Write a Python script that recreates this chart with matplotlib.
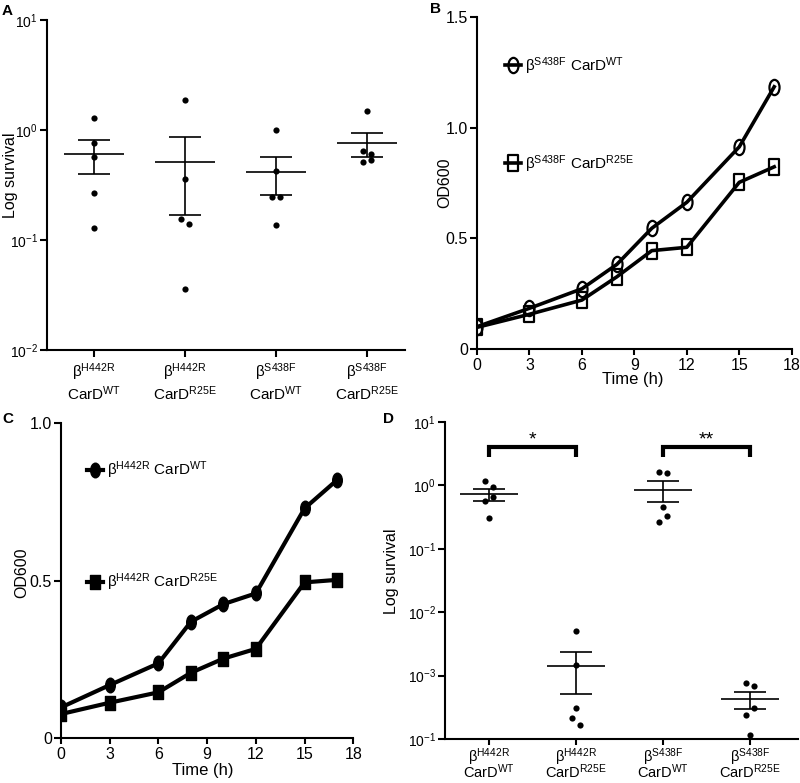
import numpy as np
import matplotlib
matplotlib.use("Agg")
import matplotlib.pyplot as plt
from matplotlib.path import Path

plt.rcParams.update({
    "font.family": ["Liberation Sans", "DejaVu Sans"],
    "mathtext.fontset": "custom",
    "mathtext.rm": "Liberation Sans",
    "mathtext.it": "Liberation Sans:italic",
    "mathtext.bf": "Liberation Sans:bold",
    "axes.linewidth": 1.5,
    "xtick.major.width": 1.5,
    "ytick.major.width": 1.5,
})

# ---------------- data ----------------
survival_labels = [
    "β$^{\\mathrm{H442R}}$\nCarD$^{\\mathrm{WT}}$",
    "β$^{\\mathrm{H442R}}$\nCarD$^{\\mathrm{R25E}}$",
    "β$^{\\mathrm{S438F}}$\nCarD$^{\\mathrm{WT}}$",
    "β$^{\\mathrm{S438F}}$\nCarD$^{\\mathrm{R25E}}$",
]
a_h442r_wt = [1.28, 0.767, 0.572, 0.269, 0.128]
a_h442r_r25e = [1.87, 0.359, 0.154, 0.140, 0.036]
a_s438f_wt = [1.00, 0.424, 0.248, 0.248, 0.136]
a_s438f_r25e = [1.50, 0.644, 0.605, 0.530, 0.508]

d_h442r_wt = [1.156, 0.93, 0.648, 0.574, 0.304]
d_h442r_r25e = [5.02e-3, 1.49e-3, 3.12e-4, 2.17e-4, 1.69e-4]
d_s438f_wt = [1.633, 1.559, 0.452, 0.327, 0.263]
d_s438f_r25e = [7.69e-4, 6.97e-4, 3.08e-4, 2.39e-4, 1.14e-4]

a_yticks = [1e-2, 1e-1, 1e0, 1e1]
a_yticklabels = ["10$^{\\mathrm{-2}}$", "10$^{\\mathrm{-1}}$", "10$^{\\mathrm{0}}$", "10$^{\\mathrm{1}}$"]
d_yticks = [1e-4, 1e-3, 1e-2, 1e-1, 1e0, 1e1]
d_yticklabels = ["10$^{\\mathrm{-1}}$", "10$^{\\mathrm{-3}}$", "10$^{\\mathrm{-2}}$",
                 "10$^{\\mathrm{-1}}$", "10$^{\\mathrm{0}}$", "10$^{\\mathrm{1}}$"]
d_significance = [(0, 1, "*"), (2, 3, "**")]

time_h = [0, 3, 6, 8, 10, 12, 15, 17]
b_s438f_wt = [0.102, 0.185, 0.273, 0.383, 0.546, 0.663, 0.913, 1.184]
b_s438f_r25e = [0.099, 0.158, 0.222, 0.327, 0.445, 0.460, 0.753, 0.823]
c_h442r_wt = [0.098, 0.169, 0.238, 0.370, 0.426, 0.460, 0.730, 0.820]
c_h442r_r25e = [0.077, 0.113, 0.146, 0.208, 0.253, 0.284, 0.495, 0.503]

b_labels = ["β$^{\\mathrm{S438F}}$ CarD$^{\\mathrm{WT}}$", "β$^{\\mathrm{S438F}}$ CarD$^{\\mathrm{R25E}}$"]
c_labels = ["β$^{\\mathrm{H442R}}$ CarD$^{\\mathrm{WT}}$", "β$^{\\mathrm{H442R}}$ CarD$^{\\mathrm{R25E}}$"]
time_ticks = [0, 3, 6, 9, 12, 15, 18]

# ---------------- markers ----------------
_circ = Path.unit_circle()
ellipse_marker = Path(_circ.vertices * np.array([0.66, 1.0]), _circ.codes)
rect_marker = Path([(-0.34, -0.5), (0.34, -0.5), (0.34, 0.5), (-0.34, 0.5), (-0.34, -0.5)],
                   [Path.MOVETO, Path.LINETO, Path.LINETO, Path.LINETO, Path.CLOSEPOLY])

fig = plt.figure(figsize=(8, 7.83), dpi=100)


def px_axes(left, top, right, bottom):
    W, H = 800, 783
    return fig.add_axes([left / W, 1 - bottom / H, (right - left) / W, (bottom - top) / H])


def swarm_offsets(ax, xc, vals, thresh=7.5, step=8.7):
    vals = np.asarray(vals)
    pts = ax.transData.transform(np.column_stack([np.full(len(vals), xc), vals]))
    ys = pts[:, 1]
    order = np.argsort(-ys)
    clusters = []
    for i in order:
        if clusters and abs(ys[clusters[-1][0]] - ys[i]) < thresh:
            clusters[-1].append(i)
        else:
            clusters.append([i])
    px_per_unit = ax.transData.transform((1, vals[0]))[0] - ax.transData.transform((0, vals[0]))[0]
    offs = np.zeros(len(vals))
    sign = 1
    for cl in clusters:
        n = len(cl)
        if n > 1:
            for k, idx in enumerate(cl):
                offs[idx] = sign * (k - (n - 1) / 2) * step / px_per_unit
            sign = -sign
    return offs


def style_axes(ax):
    for s in ("top", "right"):
        ax.spines[s].set_visible(False)
    ax.tick_params(direction="out", length=5, width=1.5, pad=1.5)


def survival_panel(ax, groups, xlim, ylim, yticks, yticklabels, linespacing, xpad, xfs):
    ax.set_yscale("log")
    ax.set_xlim(*xlim)
    ax.set_ylim(*ylim)
    style_axes(ax)
    for i, vals in enumerate(groups):
        vals = np.asarray(vals, dtype=float)
        offs = swarm_offsets(ax, i, vals)
        ax.scatter(i + offs, vals, s=20, color="black", linewidths=0, zorder=3)
        m = vals.mean()
        se = vals.std(ddof=1) / np.sqrt(len(vals))
        ax.hlines(m, i - 0.33, i + 0.33, color="black", lw=1.2)
        ax.vlines(i, m - se, m + se, color="black", lw=1.2)
        ax.hlines([m - se, m + se], i - 0.18, i + 0.18, color="black", lw=1.2)
    ax.set_xticks(range(len(groups)))
    ax.set_xticklabels(survival_labels, fontsize=xfs, linespacing=linespacing)
    ax.tick_params(axis="x", pad=xpad)
    ax.set_yticks(yticks)
    ax.set_yticklabels(yticklabels, fontsize=10)
    ax.minorticks_off()
    ax.set_ylabel("Log survival", fontsize=11.5)


# ---------------- Panel A ----------------
axA = px_axes(47, 20, 405, 350)
survival_panel(axA, [a_h442r_wt, a_h442r_r25e, a_s438f_wt, a_s438f_r25e],
               (-0.516, (405 - 94) / 91), (1e-2, 1e1), a_yticks, a_yticklabels, 1.05, 3.5, 11)
axA.yaxis.set_label_coords(-0.08, 0.53)

# ---------------- Panel D ----------------
axD = px_axes(445, 422, 798, 739)
survival_panel(axD, [d_h442r_wt, d_h442r_r25e, d_s438f_wt, d_s438f_r25e],
               (-0.505, 3.55), (1e-4, 1e1), d_yticks, d_yticklabels, 0.7, 1.0, 10.5)
axD.tick_params(axis="x", length=4)
axD.yaxis.set_label_coords(-0.13, 0.53)
for g0, g1, star in d_significance:
    axD.plot([g0, g0, g1, g1], [2.85, 4.0, 4.0, 2.85], color="black", lw=3.0,
             solid_joinstyle="miter", solid_capstyle="butt")
    axD.text((g0 + g1) / 2, 5.2, star, ha="center", va="center", fontsize=14)


# ---------------- growth panels ----------------
def growth_panel(ax, wt, r25e, labels, ylim, yticks, yticklabels, filled, lw, ms, leg_top, spacing):
    ax.set_xlim(0, 18)
    ax.set_ylim(*ylim)
    style_axes(ax)
    if filled:
        kw = dict(markerfacecolor="black", markeredgecolor="black", markeredgewidth=1.0)
    else:
        kw = dict(markerfacecolor="none", markeredgecolor="black", markeredgewidth=1.6)
    l1, = ax.plot(time_h, wt, color="black", lw=lw, marker=ellipse_marker, markersize=ms, label=labels[0], **kw)
    l2, = ax.plot(time_h, r25e, color="black", lw=lw, marker=rect_marker, markersize=ms, label=labels[1], **kw)
    ax.set_xticks(time_ticks)
    ax.set_xticklabels([str(t) for t in time_ticks], fontsize=11.5)
    ax.set_yticks(yticks)
    ax.set_yticklabels(yticklabels, fontsize=11.5)
    ax.tick_params(axis="x", length=4, pad=2)
    ax.set_ylabel("OD600", fontsize=11.5)
    ax.set_xlabel("Time (h)", fontsize=12)
    ax.legend(handles=[l1, l2], loc="upper left", bbox_to_anchor=(0.09, leg_top), frameon=False,
              borderpad=0, borderaxespad=0, handlelength=1.0, handletextpad=0.3,
              labelspacing=spacing, fontsize=11, numpoints=1)


axB = px_axes(477, 16.7, 791.7, 349.3)
growth_panel(axB, b_s438f_wt, b_s438f_r25e, b_labels, (0, 1.5), [0, 0.5, 1.0, 1.5],
             ["0", "0.5", "1.0", "1.5"], False, 2.6, 11, 0.885, 5.0)
axB.yaxis.set_label_coords(-0.079, 0.5)
axB.xaxis.set_label_coords(0.496, -0.068)

axC = px_axes(61, 423.3, 353.3, 738.3)
growth_panel(axC, c_h442r_wt, c_h442r_r25e, c_labels, (0, 1.0), [0, 0.5, 1.0],
             ["0", "0.5", "1.0"], True, 3.0, 10.5, 0.885, 5.9)
axC.yaxis.set_label_coords(-0.11, 0.525)
axC.xaxis.set_label_coords(0.486, -0.08)

# ---------------- panel letters ----------------
for x, y, s in [(2, 4, "A"), (430, 2, "B"), (2, 412, "C"), (383, 412, "D")]:
    fig.text(x / 800, 1 - y / 783, s, ha="left", va="top", fontsize=11, fontweight="bold")

fig.savefig("out.png", dpi=100)
